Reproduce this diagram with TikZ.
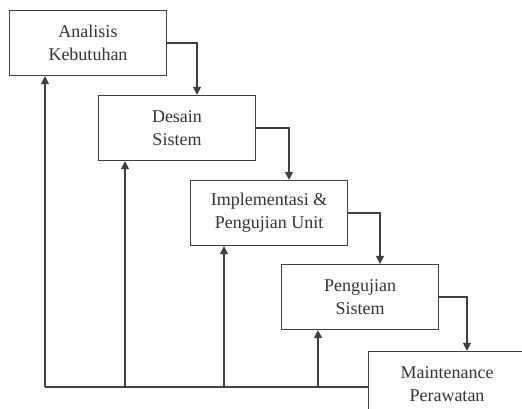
\documentclass[tikz,border=0pt]{standalone}
\usepackage{fontspec}
\setmainfont{Liberation Serif}
\usetikzlibrary{arrows.meta,positioning}

\tikzset{
		basic/.style  = {draw=black!75, line width=1.2pt, rectangle, align=center, text=black!80, font=\fontsize{18}{23}\selectfont},
		phase/.style  = {basic, minimum width=157pt, minimum height=65pt},
		link/.style   = {draw=black!75, line width=1.2pt}
	}

\begin{document}
\begin{tikzpicture}[x=1pt, y=-1pt,
		>={Triangle[width=8pt,length=8pt]}]
		
		\clip (0,0) rectangle (522,409);
		
		% the five phases, stepping down to the right
		\node[phase] (box1) at (88,43) {Analisis\\Kebutuhan};
		\node[phase] (box2) at (177,128) {Desain\\Sistem};
		\node[phase] (box3) at (269,213) {Implementasi \&\\Pengujian Unit};
		\node[phase] (box4) at (360,297) {Pengujian\\Sistem};
		\node[phase] (box5) at (447,384) {Maintenance\\Perawatan};
		
		% feedback line along the bottom
		\coordinate (f1) at (45,387);
		\coordinate (f2) at (125,387);
		\coordinate (f3) at (224,387);
		\coordinate (f4) at (318,387);
		
		% from each phase down to the next one
		\foreach \a/\b in {1/2,2/3,3/4,4/5}
		\draw[link,->] (box\a.east) -| ([xshift=20pt]box\b.north);
		
		\draw[link] (f1) -- (box5.west |- f1);
		
		\foreach \value in {1,...,4}
		\draw[link,->] (f\value) -- (f\value |- box\value.south);
		
	\end{tikzpicture}
\end{document}
